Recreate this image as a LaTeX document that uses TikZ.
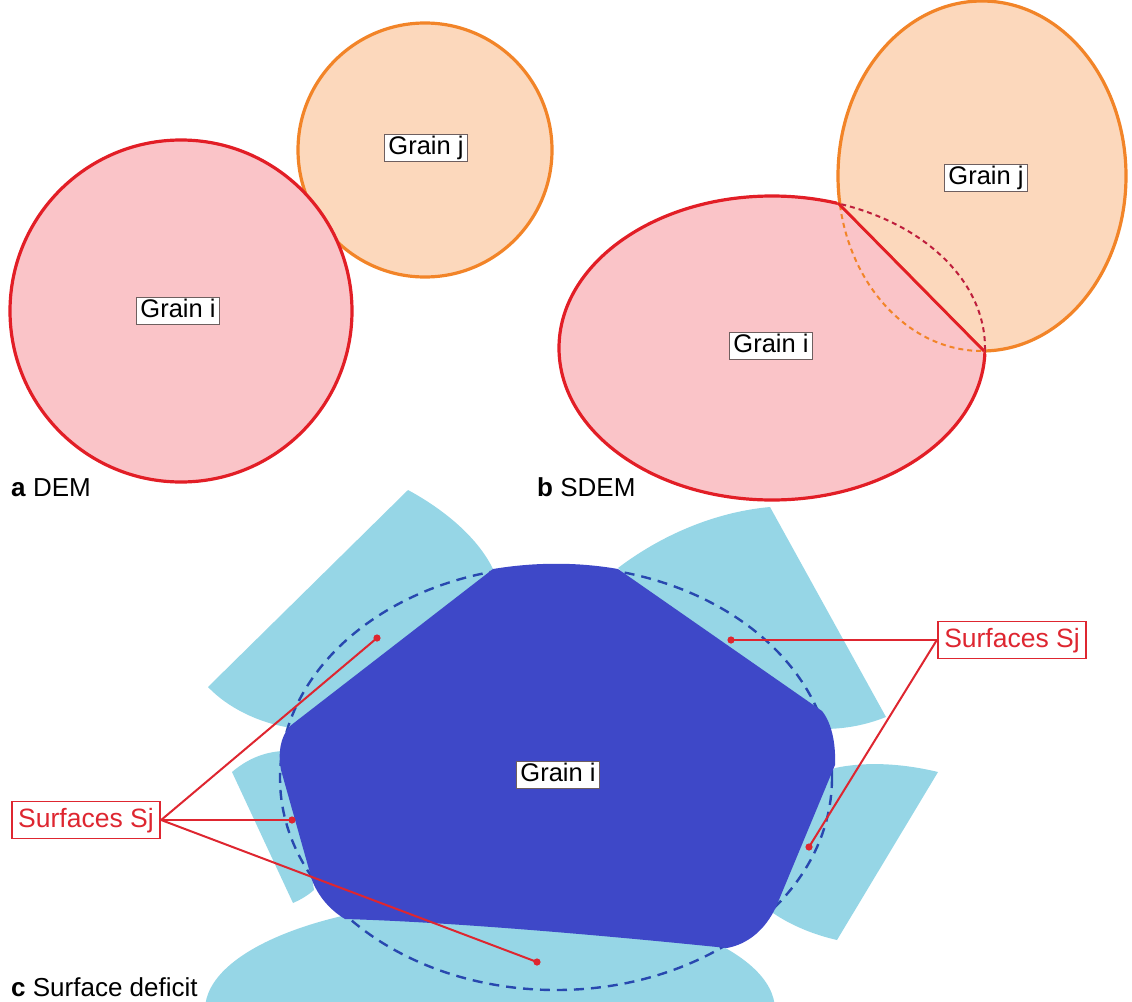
\documentclass[tikz,border=0pt]{standalone}
\usepackage{fontspec}
\setmainfont{Liberation Sans}
\definecolor{ipink}{RGB}{250,196,200}
\definecolor{ired}{RGB}{226,30,38}
\definecolor{jfill}{RGB}{252,216,188}
\definecolor{jorange}{RGB}{242,132,40}
\definecolor{idash}{RGB}{190,30,60}
\definecolor{lightb}{RGB}{150,214,230}
\definecolor{darkb}{RGB}{62,72,200}
\definecolor{dashb}{RGB}{40,72,175}
\definecolor{sred}{RGB}{222,38,48}
\definecolor{boxgray}{RGB}{110,95,95}
\begin{document}
\begin{tikzpicture}[x=1pt,y=-1pt,
  lbl/.style={draw=boxgray, line width=1.1pt, fill=white, font=\fontsize{25.5}{30}\selectfont,
    inner xsep=4pt, inner ysep=2pt, text height=18pt, text depth=5.5pt},
  slbl/.style={draw=sred, line width=1.8pt, fill=white, text=sred, font=\fontsize{26.5}{31}\selectfont,
    inner xsep=6.5pt, inner ysep=6pt, text height=19.5pt, text depth=5.5pt},
  leader/.style={draw=sred, line width=2pt},
  panel/.style={font=\fontsize{26}{30}\selectfont, anchor=base west, inner sep=0pt},
  grainout/.style={line width=3.2pt},
  dashout/.style={line width=2pt, dash pattern=on 5pt off 4pt}]
\useasboundingbox (0,0) rectangle (1132,1001);

% ---------- panel a ----------
\filldraw[fill=jfill, draw=jorange, grainout] (425,150) circle[radius=127];
\filldraw[fill=ipink, draw=ired, grainout] (181,311) circle[radius=171];
\node[lbl] (ai) at (178,311) {Grain i};
\node[lbl] (aj) at (426,148) {Grain j};
\node[panel] (pa) at (11,496) {\textbf{a} DEM};

% ---------- panel b ----------
\coordinate (p1) at (838,203);
\coordinate (p2) at (984,351);
\begin{scope}
  \clip (546,-93) -- (1276,647) -- (1400,647) -- (1400,-200) -- (546,-200) -- cycle;
  \filldraw[fill=jfill, draw=jorange, grainout] (982,176) ellipse[x radius=144, y radius=175];
  \draw[idash, dashout] (772,348) ellipse[x radius=213, y radius=152];
\end{scope}
\begin{scope}
  \clip (546,-93) -- (1276,647) -- (1276,700) -- (400,700) -- (400,-93) -- cycle;
  \filldraw[fill=ipink, draw=ired, grainout] (772,348) ellipse[x radius=213, y radius=152];
  \draw[jorange, dashout] (982,176) ellipse[x radius=144, y radius=175];
\end{scope}
\draw[jorange, line width=2.5pt, shift={(1.3,-1.3)}] (p1) -- (p2);
\draw[ired, line width=2.8pt, shift={(-0.6,0.6)}] (p1) -- (p2);
\node[lbl] (bj) at (986,178) {Grain j};
\node[lbl] (bi) at (771,346) {Grain i};
\node[panel] (pb) at (537,496) {\textbf{b} SDEM};

% ---------- panel c ----------
% surfaces of the neighbouring grains
\fill[lightb] (208,687) -- (408,490) .. controls (445,510) and (478,538) .. (493,569)
  -- (420,680) -- (286,727) .. controls (258,722) and (228,708) .. (208,687) -- cycle;
\fill[lightb] (618,568) .. controls (660,536) and (714,512) .. (770,507) -- (886,717)
  .. controls (866,725) and (845,729) .. (823,729) -- (700,650) -- cycle;
\fill[lightb] (232,772) .. controls (246,760) and (263,752) .. (283,751) -- (300,800)
  -- (314,890) .. controls (307,896) and (300,900) .. (293,903) -- cycle;
\fill[lightb] (835,768) .. controls (868,761) and (905,764) .. (938,772) -- (837,940)
  .. controls (815,935) and (792,926) .. (773,913) -- (800,800) -- cycle;
\begin{scope}
  \clip (0,0) rectangle (1132,1001);
  \fill[lightb] (490,1010) ellipse[x radius=285, y radius=110];
\end{scope}
% original outline of grain i
\draw[dashb, line width=2.4pt, dash pattern=on 10pt off 7pt] (556,778) ellipse[x radius=276, y radius=212];
% grain i
\fill[darkb] (493,569) .. controls (535,562) and (578,562) .. (618,569) -- (822,711)
  .. controls (831,722) and (836,742) .. (835,765) -- (776,907)
  .. controls (765,930) and (748,944) .. (727,948)
  .. controls (600,935) and (450,922) .. (345,919)
  .. controls (330,910) and (318,896) .. (312,880) -- (281,770)
  .. controls (278,752) and (280,738) .. (290,726) -- cycle;
\node[lbl] (ci) at (558,775) {Grain i};
\node[panel] (pc) at (11,996) {\textbf{c} Surface deficit};

% leaders
\coordinate (d1) at (377,638);
\coordinate (d2) at (292,820);
\coordinate (d3) at (537,962);
\coordinate (d4) at (731,640);
\coordinate (d5) at (809,847);
\node[slbl] (sl) at (86,820) {Surfaces Sj};
\node[slbl] (sr) at (1012,640) {Surfaces Sj};
\draw[leader] (sl.east) -- (d1);
\draw[leader] (sl.east) -- (d2);
\draw[leader] (sl.east) -- (d3);
\draw[leader] (sr.west) -- (d4);
\draw[leader] (sr.west) -- (d5);
\foreach \d in {d1,d2,d3,d4,d5} \fill[sred] (\d) circle[radius=3.6];
\node[slbl] at (sl) {Surfaces Sj};
\node[slbl] at (sr) {Surfaces Sj};
\end{tikzpicture}
\end{document}
